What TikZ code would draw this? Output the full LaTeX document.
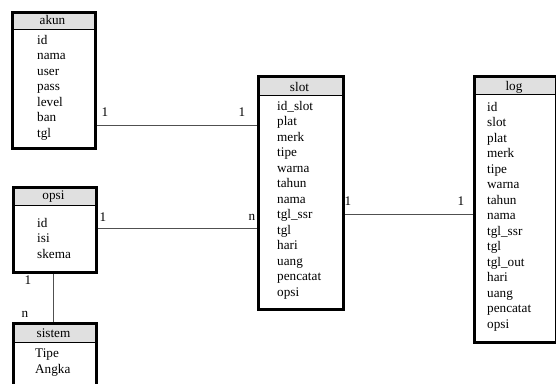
\documentclass[tikz,border=0pt]{standalone}
\usepackage{fontspec}
\setmainfont{Liberation Serif}
\definecolor{hdrgray}{HTML}{E0E0E0}
\definecolor{linegray}{HTML}{505050}
\begin{document}
\begin{tikzpicture}[x=1pt,y=-1pt,
  every node/.style={font=\fontsize{13.2}{15}\selectfont},
  hdr/.style={draw=black, line width=0.6pt, fill=hdrgray, inner sep=0, anchor=north west},
  ebox/.style={draw=black, line width=2.6pt, inner sep=0, anchor=north west},
  item/.style={anchor=base west, inner sep=0},
  htext/.style={anchor=base, inner sep=0},
  card/.style={anchor=base, inner sep=0},
  rel/.style={draw=linegray, line width=1.1pt}]
\useasboundingbox (0,0) rectangle (556,383);
\fill[white] (0,0) rectangle (556,383);

% akun
\node[hdr, minimum width=83pt, minimum height=18pt] (akunh) at (11,11) {};
\node[ebox, minimum width=83pt, minimum height=136pt] (akun) at (11,11) {};
\node[htext] (akunt) at (52.5,24) {akun};
\foreach \t [count=\i] in {id,nama,user,pass,level,ban,tgl}
  \node[item] (akun-\i) at (37,{44+15.5*(\i-1)}) {\t};

% slot
\node[hdr, minimum width=85pt, minimum height=20pt] (sloth) at (257,75) {};
\node[ebox, minimum width=85pt, minimum height=233pt] (slot) at (257,75) {};
\node[htext] (slott) at (299.5,91) {slot};
\foreach \t [count=\i] in {id\_slot,plat,merk,tipe,warna,tahun,nama,tgl\_ssr,tgl,hari,uang,pencatat,opsi}
  \node[item] (slot-\i) at (277,{110+15.5*(\i-1)}) {\t};

% log
\node[hdr, minimum width=82pt, minimum height=19pt] (logh) at (473,75) {};
\node[ebox, minimum width=82pt, minimum height=266pt] (log) at (473,75) {};
\node[htext] (logt) at (514,90) {log};
\foreach \t [count=\i] in {id,slot,plat,merk,tipe,warna,tahun,nama,tgl\_ssr,tgl,tgl\_out,hari,uang,pencatat,opsi}
  \node[item] (log-\i) at (487,{111+15.5*(\i-1)}) {\t};

% opsi
\node[hdr, minimum width=83pt, minimum height=19pt] (opsih) at (12,186) {};
\node[ebox, minimum width=83pt, minimum height=85pt] (opsi) at (12,186) {};
\node[htext] (opsit) at (53.5,199) {opsi};
\foreach \t [count=\i] in {id,isi,skema}
  \node[item] (opsi-\i) at (37,{227+15.5*(\i-1)}) {\t};

% sistem
\node[hdr, minimum width=83pt, minimum height=20pt] (sistemh) at (12,322) {};
\node[ebox, minimum width=83pt, minimum height=66pt] (sistem) at (12,322) {};
\node[htext] (sistemt) at (53.5,337) {sistem};
\node[item] (sistem-1) at (35,357) {Tipe};
\node[item] (sistem-2) at (35,373) {Angka};

% connectors
\draw[rel] ([yshift=24pt]akun.south east) coordinate (c1) -- (c1 -| slot.west);
\draw[rel] ([yshift=45pt]opsi.south east) coordinate (c2) -- (c2 -| slot.west);
\draw[rel] ([yshift=96pt]slot.south east) coordinate (c3) -- (c3 -| log.west);
\draw[rel] ([xshift=-1.5pt]opsi.south) coordinate (c4) -- (c4 |- sistem.north);

% cardinalities
\node[card] (k1) at (105,116) {1};
\node[card] (k2) at (242,116) {1};
\node[card] (k3) at (103,221) {1};
\node[card] (k4) at (252,220) {n};
\node[card] (k5) at (348,205) {1};
\node[card] (k6) at (461,205) {1};
\node[card] (k7) at (28,284) {1};
\node[card] (k8) at (25,317) {n};
\end{tikzpicture}
\end{document}
